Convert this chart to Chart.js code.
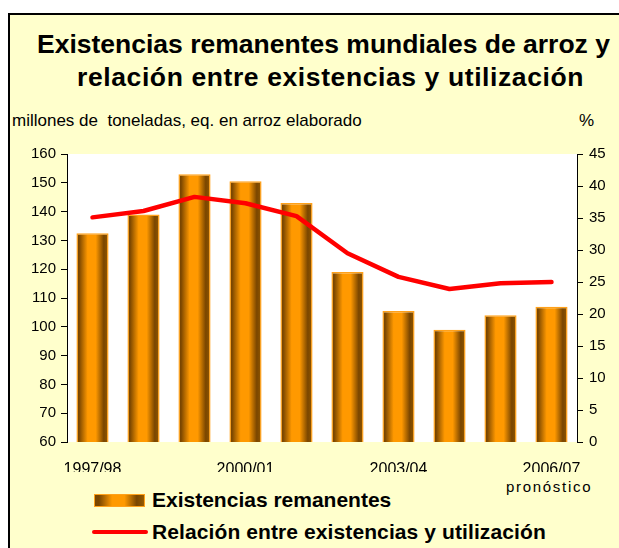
<!DOCTYPE html>
<html>
<head>
<meta charset="utf-8">
<script src="https://cdn.jsdelivr.net/npm/chart.js@4.4.1/dist/chart.umd.min.js"></script>
<style>
  html, body { margin:0; padding:0; background:#fff; }
  body { width:619px; height:548px; position:relative; overflow:hidden; font-family:"Liberation Sans", Arial, sans-serif; color:#000; }
  #frame { position:absolute; left:8px; top:13px; width:611px; height:535px; background:#FFFFCC; border-top:2px solid #000; border-left:2px solid #000; }
  .t { position:absolute; white-space:nowrap; }
  .title { font-size:26.5px; font-weight:bold; line-height:26px; }
  #c { position:absolute; left:0; top:0; }
</style>
</head>
<body>
<div id="frame"></div>
<div class="t title" style="left:37px; top:31px;">Existencias remanentes mundiales de arroz y</div>
<div class="t title" style="left:77px; top:64px; letter-spacing:0.6px;">relación entre existencias y utilización</div>
<div class="t" style="left:12px; top:112px; font-size:17px; line-height:17px;">millones de&nbsp; toneladas, eq. en arroz elaborado</div>
<div class="t" style="left:579px; top:112px; font-size:17px; line-height:17px;">%</div>
<div class="t" id="pron" style="left:506px; top:479px; font-size:15px; line-height:15px; letter-spacing:1.7px;">pronóstico</div>
<div class="t" style="left:94px; top:494px; width:51px; height:13px; box-sizing:border-box; border:1.5px solid #FFA11A; background:linear-gradient(to right,#7A4600 0%,#7A4600 8%,#FF9900 35%,#FF9900 60%,#7A4600 85%,#8A5200 95%,#9A5C00 100%);"></div>
<div class="t" style="left:152px; top:490px; font-size:21px; line-height:20px; font-weight:bold;">Existencias remanentes</div>
<div class="t" style="left:92px; top:530px; width:56px; height:4px; border-radius:2px; background:#FF0000;"></div>
<div class="t" style="left:152px; top:522px; font-size:21px; line-height:20px; font-weight:bold; letter-spacing:0.1px;">Relación entre existencias y utilización</div>
<canvas id="c" width="619" height="548"></canvas>
<script>
const categories = ['1997/98','1998/99','1999/00','2000/01','2001/02','2002/03','2003/04','2004/05','2005/06','2006/07'];
const stocks = [132.5, 139, 153, 150.5, 143, 119, 105.5, 99, 104, 107];
const ratio = [35.1, 36.1, 38.3, 37.3, 35.3, 29.5, 25.8, 23.9, 24.8, 25.0];
const leftTicks = [60, 160, 10];
const rightTicks = [0, 45, 5];
const shownLabels = ['1997/98','2000/01','2003/04','2006/07'];

const BAR_FRAC = 0.63;

function barGradient(ctx) {
  const chart = ctx.chart;
  const area = chart.chartArea;
  if (!area || !chart.scales.x) return '#FF9900';
  const x = chart.scales.x.getPixelForValue(ctx.dataIndex);
  const w = (area.right - area.left) / categories.length * BAR_FRAC;
  const g = chart.ctx.createLinearGradient(x - w/2, 0, x + w/2, 0);
  g.addColorStop(0, '#7A4600');
  g.addColorStop(0.08, '#7A4600');
  g.addColorStop(0.35, '#FF9900');
  g.addColorStop(0.6, '#FF9900');
  g.addColorStop(0.85, '#7A4600');
  g.addColorStop(0.95, '#8A5200');
  g.addColorStop(1, '#9A5C00');
  return g;
}

const plotBg = {
  id: 'plotBg',
  beforeDraw(chart) {
    const a = chart.chartArea, c = chart.ctx;
    c.save(); c.fillStyle = '#FFFFFF';
    c.fillRect(a.left, a.top, a.right - a.left, a.bottom - a.top);
    c.restore();
  }
};

new Chart(document.getElementById('c'), {
  type: 'bar',
  data: {
    labels: categories,
    datasets: [
      {
        type: 'line', label: 'Relación entre existencias y utilización', data: ratio, yAxisID: 'y1',
        borderColor: '#FF0000', borderWidth: 4.5, pointRadius: 0, tension: 0,
        borderCapStyle: 'round', borderJoinStyle: 'round', order: 1
      },
      {
        type: 'bar', label: 'Existencias remanentes', data: stocks, yAxisID: 'y',
        backgroundColor: barGradient, borderColor: '#FFA11A', borderWidth: 1.5,
        categoryPercentage: 1, barPercentage: BAR_FRAC, order: 2
      }
    ]
  },
  options: {
    responsive: false, animation: false,
    layout: { padding: { left: 20, right: 7, top: 154, bottom: 76 } },
    plugins: { legend: { display: false }, title: { display: false }, tooltip: { enabled: false } },
    scales: {
      x: {
        offset: true,
        grid: { display: false, drawTicks: false },
        border: { display: false },
        afterFit(s) { s.height = 30; },
        ticks: {
          autoSkip: false, maxRotation: 0, padding: 18, color: '#000',
          font: { family: 'Liberation Sans', size: 16 },
          callback(v, i) { const l = categories[i]; return shownLabels.includes(l) ? l : ''; }
        }
      },
      y: {
        position: 'left', min: leftTicks[0], max: leftTicks[1],
        afterFit(s) { s.width = 47; },
        grid: { drawOnChartArea: false, tickLength: 6, color: '#000' },
        border: { display: true, color: '#000', width: 1 },
        ticks: { stepSize: leftTicks[2], padding: 5, color: '#000', font: { family: 'Liberation Sans', size: 15 } }
      },
      y1: {
        position: 'right', min: rightTicks[0], max: rightTicks[1],
        afterFit(s) { s.width = 35; },
        grid: { drawOnChartArea: false, tickLength: 6, color: '#000' },
        border: { display: true, color: '#000', width: 1 },
        ticks: { stepSize: rightTicks[2], padding: 6, color: '#000', font: { family: 'Liberation Sans', size: 15 } }
      }
    }
  },
  plugins: [plotBg]
});
</script>
</body>
</html>
